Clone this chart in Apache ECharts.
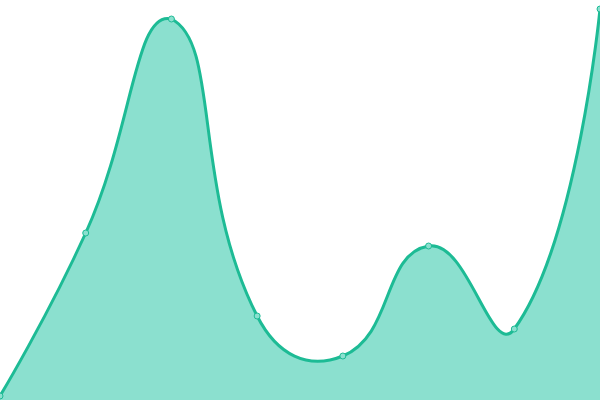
<!DOCTYPE html>
<html><head><meta charset="utf-8">
<script src="https://cdn.jsdelivr.net/npm/echarts@6/dist/echarts.min.js"></script>
<style>html,body{margin:0;padding:0;background:#fff}#c{width:600px;height:400px}</style>
</head><body><div id="c"></div>
<script>
const categories = ['1','2','3','4','5','6','7','8'];
const values = [4, 167, 381, 84, 44, 154, 71, 391];
const lineColor = '#1dbb95';
const areaColor = '#8be0cf';
const smooth = 0.5;

function buildPath(pts) {
  // classic cardinal-like smoothing (no per-segment clamping), clamped to bbox
  let minX = Infinity, minY = Infinity, maxX = -Infinity, maxY = -Infinity;
  pts.forEach(p => { minX = Math.min(minX, p[0]); maxX = Math.max(maxX, p[0]); minY = Math.min(minY, p[1]); maxY = Math.max(maxY, p[1]); });
  const clamp = (c) => [Math.min(Math.max(c[0], minX), maxX), Math.min(Math.max(c[1], minY), maxY)];
  let d = 'M' + pts[0][0] + ' ' + pts[0][1];
  let cp0 = pts[0].slice();
  for (let i = 1; i < pts.length; i++) {
    const p = pts[i], prev = pts[i - 1], next = pts[i + 1];
    let cp1, ratio = 0.5, v = [0, 0];
    if (!next) { cp1 = p.slice(); }
    else {
      v = [next[0] - prev[0], next[1] - prev[1]];
      const lp = Math.hypot(p[0] - prev[0], p[1] - prev[1]);
      const ln = Math.hypot(p[0] - next[0], p[1] - next[1]);
      ratio = ln / (ln + lp);
      cp1 = [p[0] - v[0] * smooth * (1 - ratio), p[1] - v[1] * smooth * (1 - ratio)];
    }
    const a = clamp(cp0), b = clamp(cp1);
    d += ' C' + a[0] + ' ' + a[1] + ' ' + b[0] + ' ' + b[1] + ' ' + p[0] + ' ' + p[1];
    cp0 = [p[0] + v[0] * smooth * ratio, p[1] + v[1] * smooth * ratio];
  }
  return d;
}

const chart = echarts.init(document.getElementById('c'));
chart.setOption({
  animation: false,
  grid: {left: 0, right: 0, top: 0, bottom: 0},
  xAxis: {type: 'category', data: categories, boundaryGap: false, show: false},
  yAxis: {type: 'value', min: 0, max: 400, show: false},
  series: [{
    type: 'custom',
    data: values,
    clip: false,
    renderItem: function (params, api) {
      if (params.dataIndex !== 0) return null;
      const pts = values.map((v, i) => api.coord([i, v]));
      const linePath = buildPath(pts);
      const first = api.coord([0, 0]);
      const last = api.coord([values.length - 1, 0]);
      const areaPath = linePath + ' L' + last[0] + ' ' + last[1] + ' L' + first[0] + ' ' + first[1] + ' Z';
      return {
        type: 'group',
        children: [
          {type: 'path', shape: {pathData: areaPath}, style: {fill: areaColor, stroke: null}},
          {type: 'path', shape: {pathData: linePath}, style: {fill: null, stroke: lineColor, lineWidth: 3}}
        ]
      };
    }
  }, {
    type: 'scatter',
    data: values,
    symbol: 'circle',
    symbolSize: 6,
    itemStyle: {color: areaColor, borderColor: lineColor, borderWidth: 1, opacity: 1},
    z: 3
  }]
});
</script></body></html>
